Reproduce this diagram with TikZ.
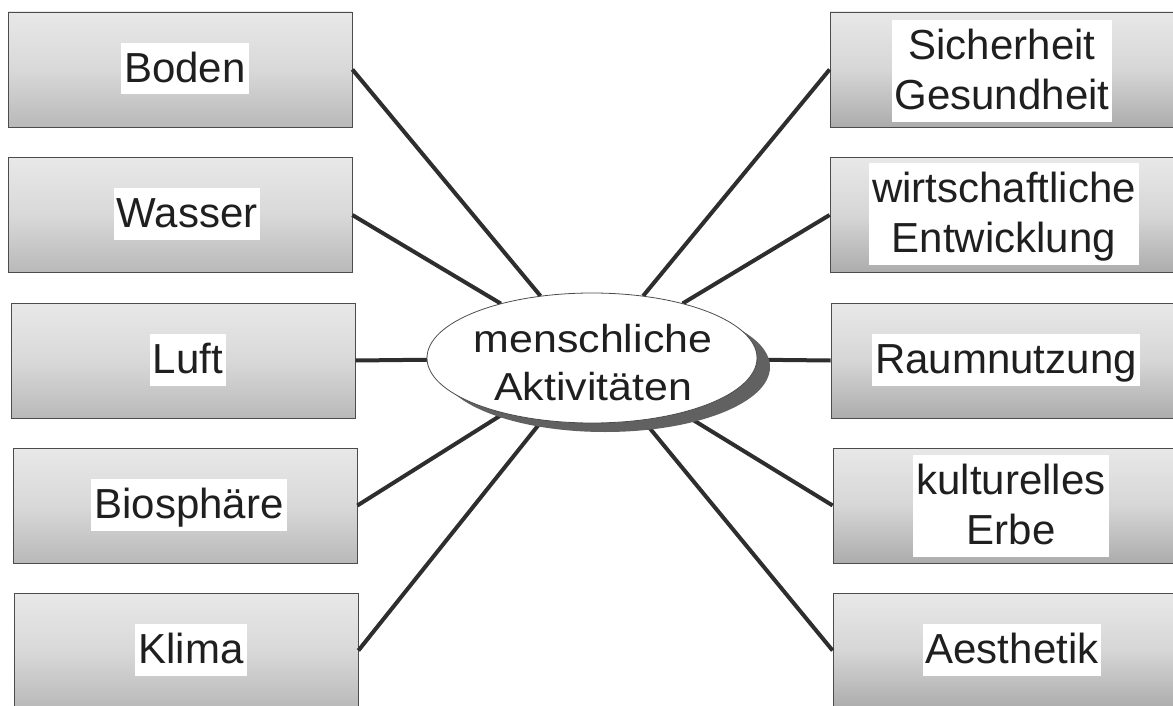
\documentclass[tikz,border=0pt]{standalone}
\usepackage{fontspec}
\setmainfont{Liberation Sans}
\usetikzlibrary{shapes.geometric}
\newcommand\lstrut{\rule[-10.5pt]{0pt}{48.5pt}}
\begin{document}
\begin{tikzpicture}[x=1pt,y=-1pt,
  lbox/.style={draw=black!70, line width=0.8pt, top color=gray!18, bottom color=gray!55, middle color=gray!30, minimum width=344pt, minimum height=115pt, inner sep=0pt},
  rbox/.style={draw=black!70, line width=0.8pt, top color=gray!18, bottom color=gray!65, middle color=gray!32, minimum width=344pt, minimum height=115pt, inner sep=0pt},
  lbl/.style={fill=white, inner xsep=3pt, inner ysep=1.5pt, font=\fontsize{42}{50}\selectfont, align=center, text=black!88},
  conn/.style={line width=4pt, draw=black!82},
  ellshape/.style={ellipse, minimum width=330pt, minimum height=130pt, inner sep=0pt}]
\useasboundingbox (0,0) rectangle (1173,706);
% left boxes
\node[lbox] (b1) at (180,69.5) {};
\node[lbox] (b2) at (180,215) {};
\node[lbox] (b3) at (183,360.5) {};
\node[lbox] (b4) at (185,505.5) {};
\node[lbox] (b5) at (186,650.5) {};
\node[lbl] (t1) at (185,68.5) {\lstrut Boden};
\node[lbl] (t2) at (187,214) {\lstrut Wasser};
\node[lbl] (t3) at (188,360) {\lstrut Luft};
\node[lbl] (t4) at (189,505) {\lstrut Biosph\"are};
\node[lbl] (t5) at (191,650) {\lstrut Klima};
% right boxes
\node[rbox] (r1) at (1002,69.5) {};
\node[rbox] (r2) at (1002,215) {};
\node[rbox] (r3) at (1003,360.5) {};
\node[rbox] (r4) at (1005,505.5) {};
\node[rbox] (r5) at (1005,650.5) {};
\node[lbl] (s1) at (1002,71) {\lstrut Sicherheit\\\lstrut Gesundheit};
\node[lbl] (s2) at (1004,214) {\lstrut wirtschaftliche\\\lstrut Entwicklung};
\node[lbl] (s3) at (1006,360) {\lstrut Raumnutzung};
\node[lbl] (s4) at (1011,506) {\lstrut kulturelles\\\lstrut Erbe};
\node[lbl] (s5) at (1012,650) {\lstrut Aesthetik};
% centre
\node[ellshape] (ell) at (592,358) {};
\foreach \b in {b1,b2,b3,b4,b5} {\draw[conn] (\b.east) -- (ell);}
\foreach \r in {r1,r2,r3,r4,r5} {\draw[conn] (\r.west) -- (ell);}
\fill[black!62] ([xshift=13pt,yshift=-9pt]ell.center) ellipse [x radius=165pt, y radius=65pt];
\node[ellshape, draw=black!70, line width=0.8pt, fill=white] (ellv) at (ell.center) {};
\node[font=\fontsize{39}{48}\selectfont, xscale=1.1, align=center, text=black!88] (etxt) at (593,363) {menschliche\\Aktivit\"aten};
\end{tikzpicture}
\end{document}
